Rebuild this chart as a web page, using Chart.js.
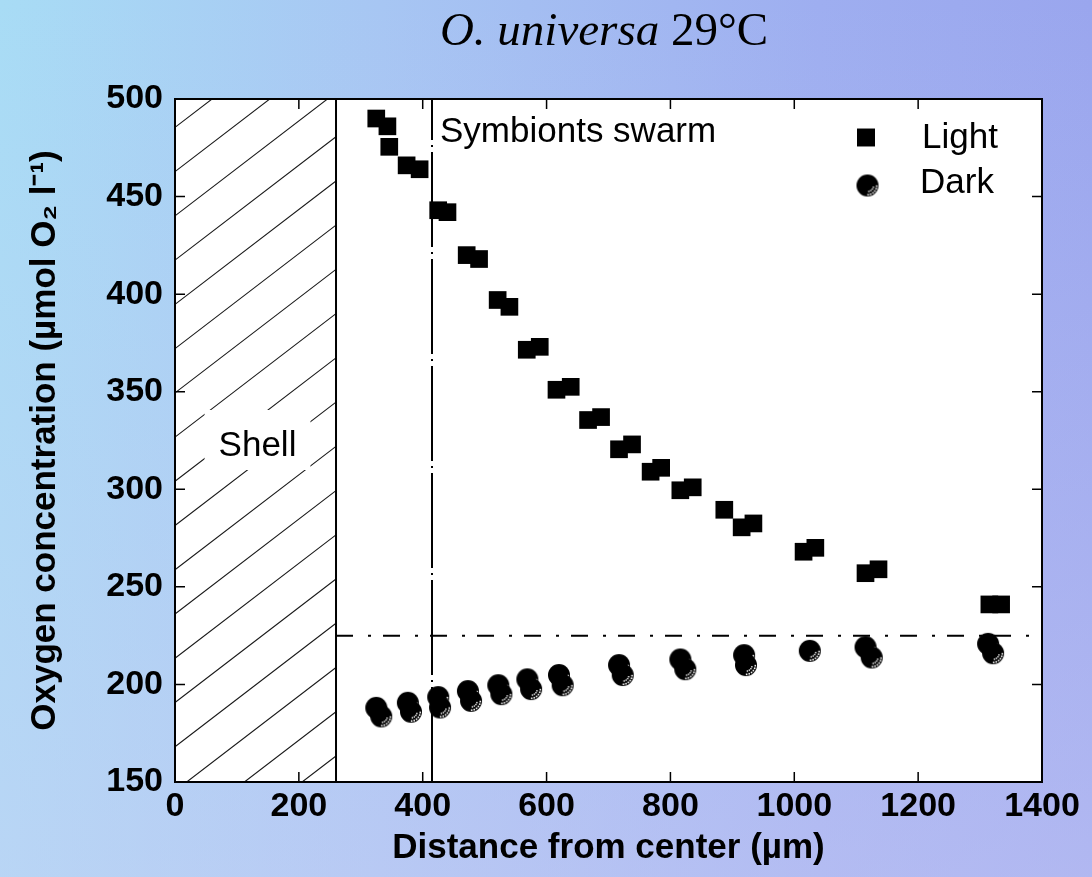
<!DOCTYPE html>
<html>
<head>
<meta charset="utf-8">
<script src="https://cdn.jsdelivr.net/npm/chart.js@4.4.1/dist/chart.umd.min.js"></script>
<style>
  html, body { margin: 0; padding: 0; }
  body {
    width: 1092px; height: 877px; overflow: hidden;
    background:
      linear-gradient(180deg, rgba(255,255,255,0) 0%, rgba(205,205,245,0.45) 100%),
      linear-gradient(90deg, #a8dcf5 0%, #a7c6f3 35%, #9eaef0 75%, #9aa6ee 100%);
  }
  #wrap { position: relative; width: 1092px; height: 877px; }
</style>
</head>
<body>
<div id="wrap"><canvas id="oxyChart" width="1092" height="877"></canvas></div>
<script>
const SANS = '"Liberation Sans", Arial, sans-serif';
const SERIF = '"Liberation Serif", "Times New Roman", serif';

// O2 profile, light incubation (µm from center, µmol/l)
const lightX = [325, 343, 346, 374, 395, 425, 440, 471, 491, 521, 540, 568, 589, 616, 639, 667,
                688, 717, 738, 768, 785, 816, 836, 887, 915, 934, 1015, 1034, 1115, 1136, 1315, 1334];
const lightY = [490, 486, 475.5, 466, 464, 443, 442, 420, 418, 397, 393.5, 371.5, 373, 351, 352.5, 335.5,
                337, 320.5, 323, 309, 311, 299.5, 301, 289.5, 280.5, 282.5, 268, 270, 257, 259, 241, 241];

// O2 profile, dark incubation
const darkX = [325, 333, 376, 381, 425, 428, 473, 478, 522, 527, 569, 575, 620, 626,
               717, 723, 816, 824, 919, 922, 1025, 1115, 1125, 1313, 1321];
const darkY = [188, 183.6, 190.6, 186, 193.5, 188.2, 196.6, 191.6, 199.6, 195, 202.6, 197.6, 204.8, 199.6,
               209.9, 204.8, 212.8, 207.8, 215, 209.9, 217.2, 219.1, 213.8, 220.8, 216];

const xTickValues = [0, 200, 400, 600, 800, 1000, 1200, 1400];
const yTickValues = [150, 200, 250, 300, 350, 400, 450, 500];

const SHELL_EDGE = 260;   // outer edge of the shell
const SWARM_EDGE = 415;   // extent of the symbiont swarm
const AMBIENT_O2 = 225;   // bulk seawater level

const pts = (xs, ys) => xs.map((x, i) => ({x: x, y: ys[i]}));

// black dot with white flecks round its lower-right rim
function speckledDot(r) {
  const s = Math.ceil(r * 2 + 2);
  const c = document.createElement('canvas');
  c.width = c.height = s;
  const g = c.getContext('2d');
  const m = s / 2;
  g.fillStyle = '#000';
  g.beginPath(); g.arc(m, m, r, 0, Math.PI * 2); g.fill();
  g.fillStyle = '#fff';
  for (let a = 5; a <= 85; a += 16) {
    const t = a * Math.PI / 180;
    g.fillRect(m + Math.cos(t) * (r - 1.5) - 1, m + Math.sin(t) * (r - 1.5) - 1, 1.6, 1.6);
  }
  for (let a = 18; a <= 75; a += 19) {
    const t = a * Math.PI / 180;
    g.fillRect(m + Math.cos(t) * (r - 4.5) - 1, m + Math.sin(t) * (r - 4.5) - 1, 1.4, 1.4);
  }
  return c;
}
const darkMarker = speckledDot(11);

const panel = {
  id: 'panel',
  beforeDatasetsDraw(chart) {
    const {ctx, chartArea: a, scales: {x}} = chart;
    const sx = x.getPixelForValue(SHELL_EDGE);
    ctx.save();
    ctx.fillStyle = '#fff';
    ctx.fillRect(a.left, a.top, a.right - a.left, a.bottom - a.top);

    // hatching over the shell
    ctx.save();
    ctx.beginPath();
    ctx.rect(a.left, a.top, sx - a.left, a.bottom - a.top);
    ctx.clip();
    ctx.strokeStyle = '#1a1a1a';
    ctx.lineWidth = 1.1;
    ctx.beginPath();
    for (let x0 = a.left - 1200; x0 < sx; x0 += 57.7) {
      ctx.moveTo(x0, a.bottom);
      ctx.lineTo(x0 + 1200, a.bottom - 920);
    }
    ctx.stroke();
    ctx.restore();

    ctx.font = '35px ' + SANS;
    ctx.textAlign = 'center';
    ctx.textBaseline = 'alphabetic';
    const cx = (a.left + sx) / 2 + 2, by = 456;
    const w = ctx.measureText('Shell').width;
    ctx.fillStyle = '#fff';
    ctx.fillRect(cx - w / 2 - 14, by - 46, w + 28, 60);
    ctx.fillStyle = '#000';
    ctx.fillText('Shell', cx, by);
    ctx.restore();
  },
  afterDraw(chart) {
    const {ctx, chartArea: a, scales: {x, y}} = chart;
    ctx.save();
    // frame with inward ticks on all four sides
    ctx.strokeStyle = '#000';
    ctx.lineWidth = 2;
    ctx.strokeRect(a.left, a.top, a.right - a.left, a.bottom - a.top);
    ctx.beginPath();
    xTickValues.forEach(v => {
      const px = x.getPixelForValue(v);
      ctx.moveTo(px, a.bottom); ctx.lineTo(px, a.bottom - 10);
      ctx.moveTo(px, a.top); ctx.lineTo(px, a.top + 10);
    });
    yTickValues.forEach(v => {
      const py = y.getPixelForValue(v);
      ctx.moveTo(a.left, py); ctx.lineTo(a.left + 10, py);
      ctx.moveTo(a.right, py); ctx.lineTo(a.right - 10, py);
    });
    ctx.lineWidth = 1.5;
    ctx.stroke();

    // annotations and legend
    ctx.fillStyle = '#000';
    ctx.font = '35px ' + SANS;
    ctx.textAlign = 'left';
    ctx.textBaseline = 'alphabetic';
    ctx.fillText('Symbionts swarm', 440, 142);

    const lds = chart.data.datasets[0];
    ctx.fillStyle = '#000';
    Chart.helpers.drawPoint(ctx, {pointStyle: lds.pointStyle, radius: 12.7, borderWidth: 0}, 866, 137.5);
    ctx.drawImage(darkMarker, 867.5 - darkMarker.width / 2, 185.5 - darkMarker.height / 2);
    ctx.fillText(lds.label, 922, 148);
    ctx.fillText(chart.data.datasets[1].label, 920, 193);

    // heading: species name in italics, temperature upright
    const p1 = 'O. universa ', p2 = '29°C';
    ctx.font = 'italic 47px ' + SERIF;
    const w1 = ctx.measureText(p1).width;
    ctx.font = '47px ' + SERIF;
    const w2 = ctx.measureText(p2).width;
    const left = 604 - (w1 + w2) / 2;
    ctx.font = 'italic 47px ' + SERIF;
    ctx.fillText(p1, left, 45);
    ctx.font = '47px ' + SERIF;
    ctx.fillText(p2, left + w1, 45);
    ctx.restore();
  }
};

const tickFont = {family: SANS, size: 34, weight: 'bold'};
const plain = v => String(v);

new Chart(document.getElementById('oxyChart'), {
  type: 'scatter',
  data: {
    datasets: [
      {
        label: 'Light',
        data: pts(lightX, lightY),
        pointStyle: 'rect',
        pointRadius: 12.5,
        backgroundColor: '#000',
        borderWidth: 0
      },
      {
        label: 'Dark',
        data: pts(darkX, darkY),
        pointStyle: darkMarker,
        pointRadius: 11
      },
      {
        label: 'shell',
        data: [{x: SHELL_EDGE, y: 150}, {x: SHELL_EDGE, y: 500}],
        showLine: true, pointRadius: 0, borderColor: '#000', borderWidth: 2
      },
      {
        label: 'swarm',
        data: [{x: SWARM_EDGE, y: 150}, {x: SWARM_EDGE, y: 500}],
        showLine: true, pointRadius: 0, borderColor: '#000', borderWidth: 2,
        borderDash: [95, 5, 2, 5]
      },
      {
        label: 'ambient',
        data: [{x: SHELL_EDGE, y: AMBIENT_O2}, {x: 1400, y: AMBIENT_O2}],
        showLine: true, pointRadius: 0, borderColor: '#000', borderWidth: 2,
        borderDash: [17, 15, 3, 12]
      }
    ]
  },
  options: {
    responsive: false,
    animation: false,
    events: [],
    layout: {padding: {top: 99, right: 50, left: 0, bottom: 0}},
    plugins: {legend: {display: false}, tooltip: {enabled: false}, title: {display: false}},
    scales: {
      x: {
        type: 'linear', min: 0, max: 1400,
        afterBuildTicks: s => { s.ticks = xTickValues.map(v => ({value: v})); },
        afterFit: s => { s.height = 95; },
        grid: {display: false, drawTicks: false},
        border: {display: false},
        ticks: {color: '#000', font: tickFont, padding: 4, maxRotation: 0, autoSkip: false, callback: plain},
        title: {
          display: true, text: 'Distance from center (µm)', color: '#000',
          font: {family: SANS, size: 35, weight: 'bold'}, padding: {top: 0, bottom: 8}
        }
      },
      y: {
        type: 'linear', min: 150, max: 500,
        afterBuildTicks: s => { s.ticks = yTickValues.map(v => ({value: v})); },
        afterFit: s => { s.width = 175; },
        grid: {display: false, drawTicks: false},
        border: {display: false},
        ticks: {color: '#000', font: tickFont, padding: 12, autoSkip: false, callback: plain},
        title: {
          display: true, text: 'Oxygen concentration (µmol O₂ l⁻¹)', color: '#000',
          font: {family: SANS, size: 35, weight: 'bold'}, padding: {top: 24, bottom: 0}
        }
      }
    }
  },
  plugins: [panel]
});
</script>
</body>
</html>
